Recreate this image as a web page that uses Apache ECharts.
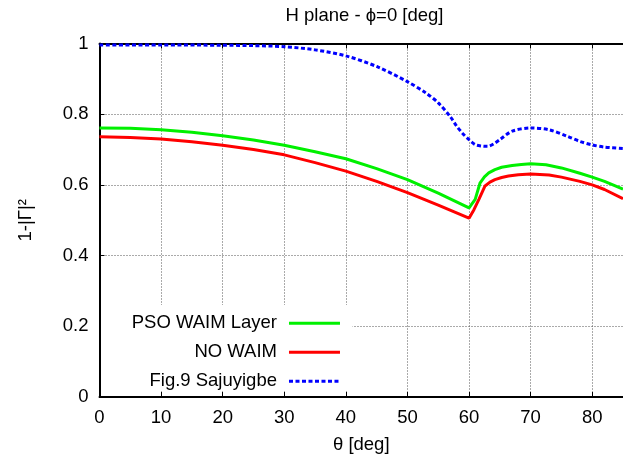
<!DOCTYPE html>
<html>
<head>
<meta charset="utf-8">
<title>H plane - ϕ=0 [deg]</title>
<script src="https://cdn.jsdelivr.net/npm/echarts@6/dist/echarts.min.js"></script>
<style>
  html, body { margin: 0; padding: 0; background: #fff; }
  #chart { width: 623px; height: 459px; }
</style>
</head>
<body>
<div id="chart"></div>
<script>
// Incidence angle θ [deg] and reflection efficiency 1-|Γ|² for each curve
const psoTheta = [0, 5, 10, 15, 20, 25, 30, 35, 40, 45, 50, 55, 60, 61, 61.8, 62.5, 63.2, 64.2, 65.3, 67, 68.5, 70, 72.5, 75, 78, 80, 82, 85];
const psoValues = [0.761, 0.760, 0.756, 0.749, 0.739, 0.727, 0.712, 0.694, 0.674, 0.646, 0.615, 0.577, 0.535, 0.559, 0.606, 0.623, 0.634, 0.643, 0.650, 0.655, 0.658, 0.660, 0.657, 0.648, 0.633, 0.622, 0.610, 0.588];

const noTheta = [0, 5, 10, 15, 20, 25, 30, 35, 40, 45, 50, 55, 60, 60.8, 61.6, 62.6, 63.4, 64.2, 65.3, 66.4, 68, 70, 73, 75, 78, 80, 82, 85];
const noValues = [0.736, 0.734, 0.730, 0.722, 0.712, 0.700, 0.685, 0.663, 0.639, 0.610, 0.578, 0.543, 0.506, 0.530, 0.559, 0.597, 0.608, 0.615, 0.621, 0.625, 0.629, 0.631, 0.628, 0.622, 0.610, 0.600, 0.587, 0.561];

const refTheta = [0, 10, 20, 25, 30, 35, 40, 45, 50, 53, 55, 57, 58, 59, 60, 61, 62, 63, 64, 65, 67, 70, 73, 76, 78, 80, 82, 85];
const refValues = [0.996, 0.996, 0.995, 0.994, 0.991, 0.982, 0.965, 0.935, 0.892, 0.860, 0.832, 0.792, 0.766, 0.745, 0.728, 0.714, 0.710, 0.709, 0.716, 0.728, 0.752, 0.761, 0.756, 0.737, 0.723, 0.713, 0.707, 0.703];

const seriesNames = ['PSO WAIM Layer', 'NO WAIM', 'Fig.9 Sajuyigbe'];
const titleText = 'H plane - ϕ=0 [deg]';
const xName = 'θ [deg]';
const yName = '1-|Γ|²';

const zip = (xs, ys) => xs.map((x, i) => [x, ys[i]]);
const FONT = "'Liberation Sans', Arial, sans-serif";
const FS = 18.5;

const chart = echarts.init(document.getElementById('chart'), null, { renderer: 'canvas' });

const gridLine = { show: true, lineStyle: { color: '#555', width: 1, type: [1, 2] } };

chart.setOption({
  animation: false,
  backgroundColor: '#fff',
  textStyle: { fontFamily: FONT },
  title: {
    text: titleText,
    left: 364.5,
    top: 6,
    padding: 0,
    textAlign: 'center',
    textStyle: { fontFamily: FONT, fontSize: FS, fontWeight: 'normal', color: '#000' }
  },
  grid: { left: 99.5, right: -6.5, top: 43.5, bottom: 60.5 },
  legend: {
    orient: 'vertical',
    align: 'right',
    left: 101,
    top: 305,
    padding: [8.7, 11, 0, 30.7],
    itemGap: 10,
    itemWidth: 51,
    itemHeight: 14,
    backgroundColor: '#fff',
    data: seriesNames,
    // line sample only, no marker in the middle
    itemStyle: { color: 'rgba(0,0,0,0)', borderWidth: 0, opacity: 0 },
    lineStyle: { width: 3 },
    textStyle: { fontFamily: FONT, fontSize: FS, color: '#000', lineHeight: 18, padding: [0, 7, 0, 0] }
  },
  xAxis: [{
    type: 'value',
    min: 0, max: 85, interval: 10,
    name: xName,
    nameLocation: 'middle',
    nameGap: 38,
    nameTextStyle: { fontFamily: FONT, fontSize: FS, color: '#000' },
    axisLine: { show: true, onZero: false, lineStyle: { color: '#000', width: 2 } },
    axisTick: { show: true, inside: true, length: 5, lineStyle: { color: '#000', width: 1 } },
    axisLabel: { fontFamily: FONT, fontSize: FS, color: '#000', margin: 11, showMaxLabel: false },
    splitLine: gridLine
  }, {
    type: 'value',
    position: 'top',
    min: 0, max: 85, interval: 10,
    axisLine: { show: true, onZero: false, lineStyle: { color: '#000', width: 2 } },
    axisTick: { show: true, inside: true, length: 5, lineStyle: { color: '#000', width: 1 } },
    axisLabel: { show: false },
    splitLine: { show: false }
  }],
  yAxis: {
    type: 'value',
    min: 0, max: 1, interval: 0.2,
    name: yName,
    nameLocation: 'middle',
    nameGap: 64,
    nameTextStyle: { fontFamily: FONT, fontSize: FS, color: '#000' },
    axisLine: { show: true, onZero: false, lineStyle: { color: '#000', width: 2 } },
    axisTick: { show: true, inside: true, length: 5, lineStyle: { color: '#000', width: 1 } },
    axisLabel: { fontFamily: FONT, fontSize: FS, color: '#000', margin: 11 },
    splitLine: gridLine
  },
  series: [
    {
      name: seriesNames[0], type: 'line', data: zip(psoTheta, psoValues),
      symbol: 'none', showSymbol: false, smooth: false,
      color: '#00f000',
      lineStyle: { color: '#00f000', width: 3 }
    },
    {
      name: seriesNames[1], type: 'line', data: zip(noTheta, noValues),
      symbol: 'none', showSymbol: false, smooth: false,
      color: '#ff0000',
      lineStyle: { color: '#ff0000', width: 3 }
    },
    {
      name: seriesNames[2], type: 'line', data: zip(refTheta, refValues),
      symbol: 'none', showSymbol: false, smooth: 0.3,
      color: '#0000ff',
      lineStyle: { color: '#0000ff', width: 3, type: [4, 2.5], cap: 'butt' }
    }
  ]
});
</script>
</body>
</html>
